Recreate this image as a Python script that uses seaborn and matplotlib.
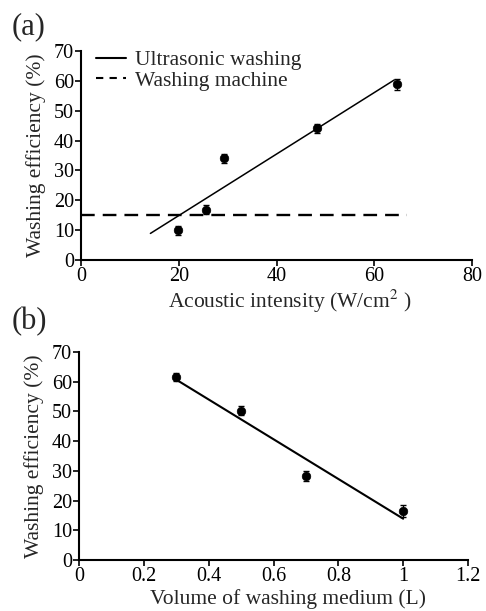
import matplotlib
matplotlib.use("Agg")
import matplotlib.pyplot as plt
import seaborn as sns
import pandas as pd
from matplotlib.lines import Line2D

# Panel (a) data
intensity = [19.9, 25.5, 29.3, 48.3, 64.6]
eff_a = [10.0, 16.8, 34.1, 44.2, 58.8]
err_a = [1.5, 1.5, 1.5, 1.5, 1.8]
fit_a_x = [14.2, 64.1]
fit_a_y = [8.9, 60.3]
machine_x = [0, 66.6]
machine_y = [15, 15]

# Panel (b) data
volume = [0.3, 0.5, 0.7, 1.0]
eff_b = [61.6, 50.2, 28.3, 16.5]
err_b = [1.5, 1.5, 1.8, 2.0]
fit_b_x = [0.3, 1.0]
fit_b_y = [60.7, 13.9]

sns.set_style("ticks")
plt.rcParams['font.family'] = ['Liberation Serif', 'DejaVu Serif']
plt.rcParams['mathtext.fontset'] = 'stix'

fig = plt.figure(figsize=(4.86, 6.11), dpi=100)
W, H = 486, 611
ax1 = fig.add_axes([81 / W, 1 - 260 / H, (472 - 81) / W, (260 - 51) / H])
ax2 = fig.add_axes([79 / W, 1 - 560 / H, (468 - 79) / W, (560 - 352) / H])

dfa = pd.DataFrame({"x": intensity, "y": eff_a})
sns.lineplot(x=fit_a_x, y=fit_a_y, ax=ax1, color="black", lw=1.1, legend=False)
sns.lineplot(x=machine_x, y=machine_y, ax=ax1, color="black", lw=1.7,
             linestyle=(0, (5.8, 3.4)), legend=False)
ax1.errorbar(dfa["x"], dfa["y"], yerr=err_a, fmt="none", ecolor="black", elinewidth=1.0, capsize=2.5)
sns.scatterplot(data=dfa, x="x", y="y", ax=ax1, color="black", s=38, edgecolor="black", zorder=5)

dfb = pd.DataFrame({"x": volume, "y": eff_b})
sns.lineplot(x=fit_b_x, y=fit_b_y, ax=ax2, color="black", lw=1.5, legend=False)
ax2.errorbar(dfb["x"], dfb["y"], yerr=err_b, fmt="none", ecolor="black", elinewidth=1.0, capsize=2.5)
sns.scatterplot(data=dfb, x="x", y="y", ax=ax2, color="black", s=38, edgecolor="black", zorder=5)

ax1.set_xlim(0, 80)
ax1.set_ylim(0, 70)
ax1.set_xticks([0, 20, 40, 60, 80])
ax1.set_yticks(range(0, 71, 10))
ax2.set_xlim(0, 1.2)
ax2.set_ylim(0, 70)
ax2.set_xticks([0, 0.2, 0.4, 0.6, 0.8, 1.0, 1.2])
ax2.set_xticklabels(["0", "0.2", "0.4", "0.6", "0.8", "1", "1.2"])
ax2.set_yticks(range(0, 71, 10))

for ax in (ax1, ax2):
    sns.despine(ax=ax)
    for s in ("left", "bottom"):
        ax.spines[s].set_linewidth(1.5)
        ax.spines[s].set_color("black")
    ax.tick_params(direction="out", length=4, width=1.2, labelsize=14.5, colors="black", pad=1)
    ax.set_ylabel("Washing efficiency (%)", fontsize=15.5, labelpad=6)

ax1.set_xlabel("Acoustic intensity (W/cm$^{2}$ )", fontsize=15.5, labelpad=1)
ax2.set_xlabel("Volume of washing medium (L)", fontsize=15.5, labelpad=2)
ax1.xaxis.label.set_x(0.535)
ax2.xaxis.label.set_x(0.537)

handles = [Line2D([], [], color="black", lw=1.5),
           Line2D([], [], color="black", lw=1.5, linestyle=(0, (3.5, 3.0)))]
ax1.legend(handles, ["Ultrasonic washing", "Washing machine"], loc="upper left",
           frameon=False, fontsize=15.5, handlelength=1.4, borderaxespad=0.0,
           labelspacing=0.02, handletextpad=0.4, borderpad=0.4,
           bbox_to_anchor=(0.016, 1.046))

fig.text(12 / W, 1 - 27 / H, "(a)", fontsize=22, va="center", ha="left")
fig.text(12 / W, 1 - 322 / H, "(b)", fontsize=22, va="center", ha="left")

fig.savefig("out.png", dpi=100)
